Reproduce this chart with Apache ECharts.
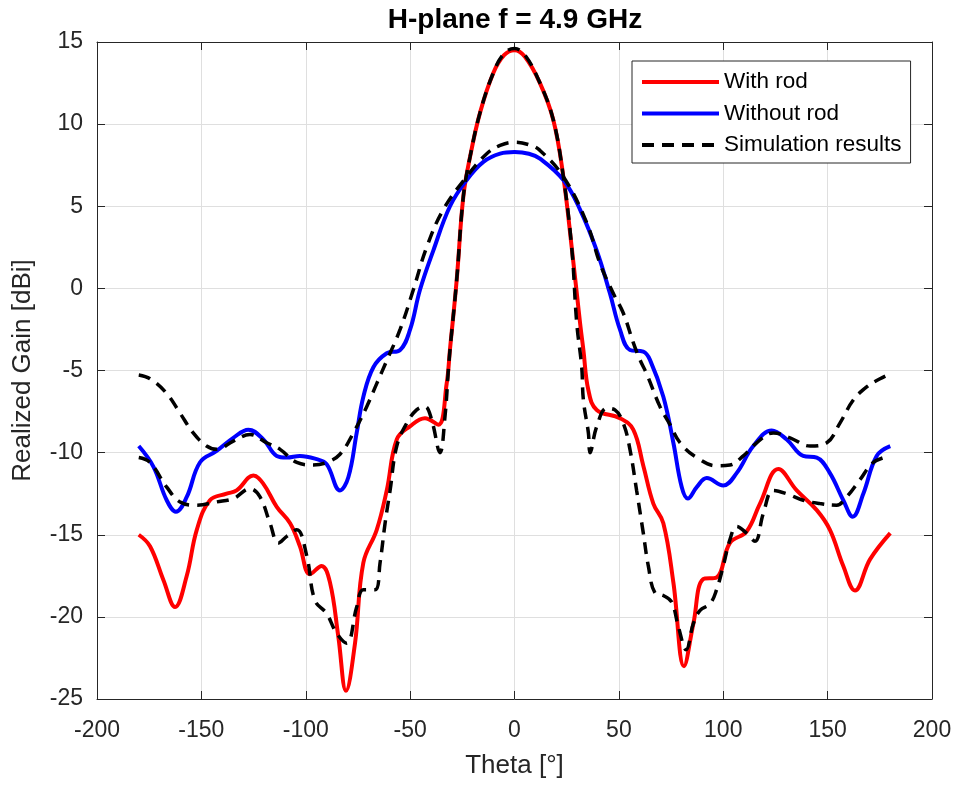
<!DOCTYPE html>
<html>
<head>
<meta charset="utf-8">
<title>H-plane f = 4.9 GHz</title>
<script src="https://cdn.jsdelivr.net/npm/echarts@6/dist/echarts.min.js"></script>
<style>
  html, body { margin: 0; padding: 0; background: #ffffff; }
  #chart { width: 960px; height: 785px; }
</style>
</head>
<body>
<div id="chart"></div>
<script>
// Measured realized gain, H-plane cut at 4.9 GHz (theta in degrees, gain in dBi)
const withRodTheta = [-180, -174.6, -168.2, -162.6, -157, -152.2, -145.9, -137.9, -133.1, -125.1, -120.3, -113.9, -107.5, -102.8, -98, -92.4, -88.4, -84.4, -80.7, -76.4, -72.4, -66, -61.2, -56.4, -50.1, -42.9, -36.5, -32.5, -30.9, -27.7, -24.5, -21.3, -16.5, -10.2, -5, 0, 5, 12.2, 18.6, 23.4, 27.4, 31.4, 33, 35.4, 39.4, 50.5, 56.9, 61.7, 66.5, 71.3, 76.1, 81.2, 85.7, 90.4, 96.8, 103.2, 111.2, 117.6, 126.4, 135.2, 144.8, 151.1, 157.5, 163.1, 170.3, 180];
const withRodGain = [-15.0, -15.7, -17.75, -19.4, -17.5, -14.7, -12.9, -12.5, -12.3, -11.4, -11.9, -13.3, -14.3, -15.7, -17.4, -16.9, -17.9, -21.2, -24.5, -21.6, -16.7, -14.7, -12.3, -9.2, -8.4, -7.9, -8.3, -5.8, -3.7, 0.5, 5.6, 8.0, 10.7, 13.1, 14.2, 14.5, 14.1, 12.5, 10.25, 6.8, 2.5, -2.1, -3.75, -6.2, -7.4, -7.9, -8.6, -10.8, -13.1, -14.3, -17.9, -23.0, -20.4, -17.7, -17.6, -15.5, -14.8, -13.1, -11.0, -12.3, -13.5, -14.7, -16.9, -18.4, -16.5, -14.9];

const withoutRodTheta = [-180, -173, -166.6, -162.2, -157, -150.7, -142.7, -134.7, -127.5, -120.3, -113.9, -109.1, -102.8, -94.8, -90, -83.6, -79.6, -75.6, -72.4, -67.6, -61.2, -54.8, -50, -45.3, -38.9, -30.9, -22.9, -14.9, -6.9, 0, 6.9, 12.2, 23.4, 31.4, 39.4, 45.7, 50.5, 55.3, 61.7, 64.9, 71.3, 76.1, 80.1, 83, 87.3, 92.1, 100, 106.4, 114.4, 123.2, 130.4, 138.3, 144.8, 151.1, 157.5, 162, 167.1, 173.5, 180];
const withoutRodGain = [-9.6, -10.85, -12.9, -13.6, -12.7, -10.6, -9.9, -9.1, -8.6, -9.2, -10.2, -10.3, -10.2, -10.4, -10.7, -12.3, -11.5, -8.8, -6.6, -4.8, -3.95, -3.75, -2.5, -0.1, 2.3, 5.0, 6.6, 7.7, 8.2, 8.3, 8.2, 7.9, 6.6, 4.8, 2.3, -0.3, -2.5, -3.75, -3.85, -4.35, -6.6, -9.4, -12.1, -12.8, -12.1, -11.55, -12.0, -11.25, -9.6, -8.65, -9.2, -10.2, -10.3, -11.25, -12.9, -13.9, -12.5, -10.2, -9.6];

// Simulated gain, configuration with rod
const simRodTheta = [-180, -174.6, -166.6, -160.2, -152.2, -142.7, -134.7, -126.7, -121.9, -117.1, -113.1, -109.1, -104.3, -99.5, -95.6, -90, -85.2, -80.4, -75.6, -72.4, -66.8, -64.4, -62, -59.6, -56.4, -51.6, -46.9, -42.9, -39.7, -35.7, -33.3, -31.7, -30.9, -27.7, -24.5, -21.3, -16.5, -10.2, -5, 0, 5, 12.2, 18.6, 23.4, 27.4, 29.8, 32.2, 33, 35.4, 36.2, 39.4, 44.2, 48.1, 52.1, 55.3, 58.5, 61.7, 64.1, 67.3, 71.3, 75.3, 78.5, 82.2, 85.7, 88.9, 93.7, 96.8, 100, 103.2, 106.4, 111.2, 115.2, 119.2, 124, 130.4, 138.3, 146.3, 154.3, 159.1, 165.5, 171.9, 180];
const simRodGain = [-10.3, -10.6, -12.1, -13.0, -13.2, -13.0, -12.8, -12.2, -12.7, -14.3, -15.5, -15.1, -14.7, -16.3, -19.0, -19.8, -21.0, -21.6, -19.4, -18.35, -18.35, -16.7, -14.3, -12.3, -9.6, -8.2, -7.4, -7.2, -8.0, -10.0, -7.8, -5.0, -3.75, 0.5, 5.6, 8.0, 10.7, 13.1, 14.3, 14.6, 14.2, 12.5, 10.25, 6.8, 2.5, -2.1, -4.8, -6.8, -8.8, -10.0, -8.4, -7.3, -7.4, -8.2, -9.8, -12.3, -14.9, -16.9, -18.55, -18.7, -19.1, -20.6, -22.0, -20.4, -19.6, -19.2, -18.35, -16.9, -15.3, -14.5, -14.9, -15.4, -13.7, -12.3, -12.5, -12.9, -13.1, -13.2, -12.7, -11.65, -10.6, -10.2];

// Simulated gain, configuration without rod
const simNoRodTheta = [-180, -174.6, -166.6, -160.2, -153.9, -147.5, -142.7, -134.7, -126.7, -118.7, -112.3, -104.3, -96.4, -90, -83.6, -77.2, -70.8, -66, -61.2, -54.8, -48.5, -42.1, -34.1, -22.9, -13.3, -6.9, 0, 6.9, 12.2, 23.4, 34.6, 41, 47.3, 52.1, 56.9, 60.1, 63.3, 69.7, 74.5, 79.3, 87.3, 96.8, 103.2, 109.6, 116, 124, 132, 141.6, 149.6, 155.9, 162.3, 168.7, 175.1, 180];
const simNoRodGain = [-5.27, -5.5, -6.4, -7.6, -8.8, -9.6, -9.8, -9.3, -8.9, -9.4, -9.8, -10.6, -10.75, -10.6, -10.1, -8.8, -7.2, -5.8, -4.4, -2.5, -0.1, 2.5, 4.8, 6.8, 8.2, 8.7, 8.9, 8.75, 8.4, 6.8, 4.0, 1.5, -0.3, -1.5, -3.3, -4.35, -5.2, -7.2, -8.3, -9.4, -10.3, -10.8, -10.75, -10.2, -9.4, -8.8, -9.1, -9.6, -9.4, -8.2, -6.8, -6.0, -5.5, -5.2];

// Axis ranges and tick spacing
const thetaRange = [-200, 200, 50];
const gainRange = [-25, 15, 5];

const FONT = "'Liberation Sans', Arial, Helvetica, sans-serif";
const AXIS_COLOR = '#262626';
const GRID_COLOR = '#dfdfdf';

function pairs(xs, ys) {
  return xs.map((x, i) => [x, ys[i]]);
}

function lineSeries(name, xs, ys, color, width, dashed) {
  return {
    name: name,
    type: 'line',
    xAxisIndex: 0,
    yAxisIndex: 0,
    data: pairs(xs, ys),
    symbol: 'none',
    showSymbol: false,
    smooth: 0.4,
    animation: false,
    lineStyle: {
      color: color,
      width: width,
      type: dashed ? [12, 8] : 'solid',
      cap: 'butt'
    },
    itemStyle: { color: color }
  };
}

const valueAxisBase = {
  type: 'value',
  axisLine: { show: true, onZero: false, lineStyle: { color: AXIS_COLOR, width: 1 } },
  axisTick: { show: true, inside: true, length: 8, lineStyle: { color: AXIS_COLOR, width: 1 } },
  splitLine: { show: false },
  axisLabel: { show: false }
};

const chart = echarts.init(document.getElementById('chart'), null, { renderer: 'canvas' });

chart.setOption({
  backgroundColor: '#ffffff',
  animation: false,
  textStyle: { fontFamily: FONT },
  title: {
    text: 'H-plane f = 4.9 GHz',
    left: 515,
    top: 6,
    padding: 0,
    textAlign: 'center',
    textStyle: { fontFamily: FONT, fontSize: 28, fontWeight: 'bold', color: '#000000' }
  },
  grid: { left: 97, right: 28, top: 42, bottom: 86, containLabel: false },
  legend: {
    orient: 'vertical',
    left: 632,
    top: 61,
    padding: [9, 9, 6, 8],
    itemWidth: 77,
    itemHeight: 24,
    itemGap: 7.5,
    backgroundColor: '#ffffff',
    borderColor: AXIS_COLOR,
    borderWidth: 1,
    borderRadius: 0,
    data: ['With rod', 'Without rod', 'Simulation results'],
    lineStyle: { width: 4 },
    itemStyle: { color: 'rgba(0,0,0,0)', borderWidth: 0, opacity: 0 },
    textStyle: { fontFamily: FONT, fontSize: 22.5, color: '#000000', lineHeight: 24 }
  },
  xAxis: [
    Object.assign({}, valueAxisBase, {
      position: 'bottom',
      min: thetaRange[0], max: thetaRange[1], interval: thetaRange[2],
      name: 'Theta [°]',
      nameLocation: 'middle',
      nameGap: 54,
      nameTextStyle: { fontFamily: FONT, fontSize: 26, color: AXIS_COLOR },
      splitLine: { show: true, lineStyle: { color: GRID_COLOR, width: 1 } },
      axisLabel: { show: true, margin: 20, fontFamily: FONT, fontSize: 23, color: AXIS_COLOR }
    }),
    Object.assign({}, valueAxisBase, {
      position: 'top',
      min: thetaRange[0], max: thetaRange[1], interval: thetaRange[2]
    })
  ],
  yAxis: [
    Object.assign({}, valueAxisBase, {
      position: 'left',
      min: gainRange[0], max: gainRange[1], interval: gainRange[2],
      name: 'Realized Gain [dBi]',
      nameLocation: 'middle',
      nameGap: 61,
      nameTextStyle: { fontFamily: FONT, fontSize: 26, color: AXIS_COLOR },
      splitLine: { show: true, lineStyle: { color: GRID_COLOR, width: 1 } },
      axisLabel: { show: true, margin: 14, fontFamily: FONT, fontSize: 23, color: AXIS_COLOR }
    }),
    Object.assign({}, valueAxisBase, {
      position: 'right',
      min: gainRange[0], max: gainRange[1], interval: gainRange[2]
    })
  ],
  series: [
    lineSeries('With rod', withRodTheta, withRodGain, '#ff0000', 4, false),
    lineSeries('Without rod', withoutRodTheta, withoutRodGain, '#0000ff', 4, false),
    lineSeries('Simulation results', simRodTheta, simRodGain, '#000000', 3.5, true),
    lineSeries('Simulation results', simNoRodTheta, simNoRodGain, '#000000', 3.5, true)
  ]
});
</script>
</body>
</html>
